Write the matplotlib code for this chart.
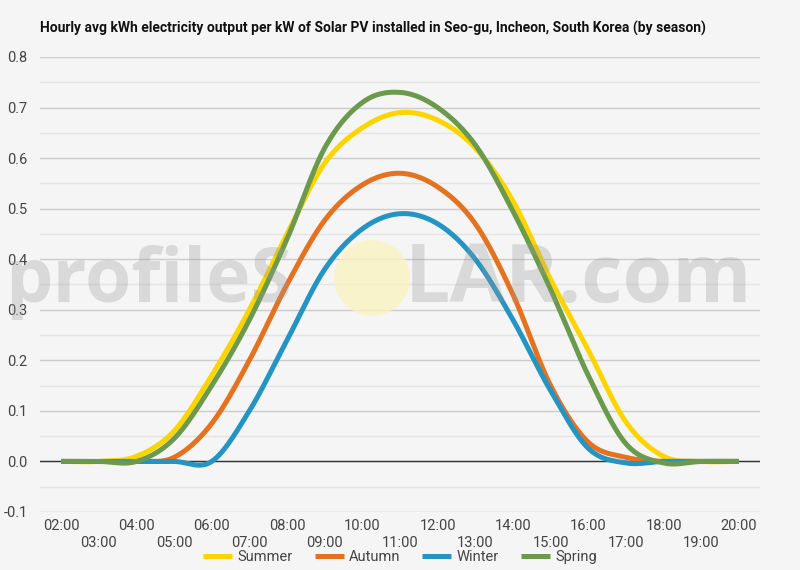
import numpy as np
import matplotlib.pyplot as plt
from matplotlib.patches import Circle

plt.rcParams['font.family'] = ['Roboto', 'DejaVu Sans']

horas = list(range(2, 21))
etiquetas = ["%02d:00" % h for h in horas]

verano = [0, 0, 0.01, 0.06, 0.17, 0.30, 0.45, 0.59, 0.66, 0.69, 0.675, 0.62, 0.515, 0.36, 0.22, 0.078, 0.01, 0, 0]
otono = [0, 0, 0, 0.008, 0.075, 0.20, 0.35, 0.477, 0.547, 0.57, 0.543, 0.47, 0.33, 0.15, 0.038, 0.008, 0, 0, 0]
invierno = [0, 0, 0, 0, 0, 0.10, 0.24, 0.38, 0.46, 0.49, 0.47, 0.40, 0.28, 0.14, 0.026, -0.003, 0, 0, 0]
primavera = [0, 0, 0, 0.045, 0.15, 0.28, 0.44, 0.62, 0.71, 0.73, 0.70, 0.626, 0.495, 0.34, 0.17, 0.035, -0.003, 0, 0]

series = [("Summer", verano, "#fcd500"),
          ("Autumn", otono, "#e4721f"),
          ("Winter", invierno, "#2394c4"),
          ("Spring", primavera, "#6c9a4c")]


def suavizar(x, y, n=40):
    # catmull-rom, parecido al curveType de google
    x = np.array(x, dtype=float)
    y = np.array(y, dtype=float)
    m = np.zeros_like(y)
    m[1:-1] = (y[2:] - y[:-2]) / 2
    xs, ys = [], []
    for i in range(len(x) - 1):
        t = np.linspace(0, 1, n, endpoint=False)
        h00 = 2 * t**3 - 3 * t**2 + 1
        h10 = t**3 - 2 * t**2 + t
        h01 = -2 * t**3 + 3 * t**2
        h11 = t**3 - t**2
        xs.append(x[i] + t * (x[i + 1] - x[i]))
        ys.append(h00 * y[i] + h10 * m[i] + h01 * y[i + 1] + h11 * m[i + 1])
    xs.append([x[-1]])
    ys.append([y[-1]])
    return np.concatenate(xs), np.concatenate(ys)


fig = plt.figure(figsize=(8, 5.7), dpi=100, facecolor="#f5f5f5")
ax = fig.add_axes([0.05, 0.1018, 0.9, 0.7982])
ax.set_facecolor("#f5f5f5")

ax.set_ylim(-0.1, 0.8)
ax.set_xlim(1.44, 20.56)
ax.set_yticks(np.arange(-0.1, 0.81, 0.1))
ax.set_yticks(np.arange(-0.05, 0.8, 0.1), minor=True)
ax.yaxis.set_major_formatter(plt.FuncFormatter(lambda v, p: "%.1f" % v))
ax.grid(axis="y", which="major", color="#cccccc", lw=1)
ax.grid(axis="y", which="minor", color="#e4e4e4", lw=1)
ax.set_axisbelow(True)
ax.axhline(0, color="#333333", lw=1, zorder=1)

ax.set_xticks(horas)
ax.set_xticklabels([e if h % 2 == 0 else "\n" + e for h, e in zip(horas, etiquetas)], linespacing=1.25)
ax.tick_params(axis="both", which="both", length=0, labelsize=10.5, colors="#444444")
ax.tick_params(axis="x", pad=5)
ax.tick_params(axis="y", pad=9)
for s in ax.spines.values():
    s.set_visible(False)

for nombre, valores, color in series:
    xs, ys = suavizar(horas, valores)
    ax.plot(xs, ys, color=color, lw=3.6, label=nombre, solid_capstyle="butt", zorder=3)

# marca de agua
circ = Circle((372, 570 - 278), 38, transform=None, facecolor="#fbf3bf", edgecolor="none", alpha=0.75, zorder=2)
fig.patches.append(circ)
fig.text(5 / 800, 1 - 302 / 570, "profileS", fontsize=54, fontweight="bold", family="Open Sans",
         color="#9a9a9a", alpha=0.3, ha="left", va="baseline", zorder=5)
fig.text(405 / 800, 1 - 302 / 570, "LAR.com", fontsize=58, fontweight="bold", family="Open Sans",
         color="#9a9a9a", alpha=0.3, ha="left", va="baseline", zorder=5)

fig.text(40 / 800, 1 - 28 / 570, "Hourly avg kWh electricity output per kW of Solar PV installed in Seo-gu, Incheon, South Korea (by season)",
         fontsize=10, fontweight="bold", color="#111111", ha="left", va="center")

fig.legend(loc="center", bbox_to_anchor=(0.5, 1 - 557 / 570), ncol=4, frameon=False,
           fontsize=10.5, handlelength=2.0, handletextpad=0.35, columnspacing=1.5,
           labelcolor="#444444")

fig.savefig("out.png", dpi=100, facecolor=fig.get_facecolor())
